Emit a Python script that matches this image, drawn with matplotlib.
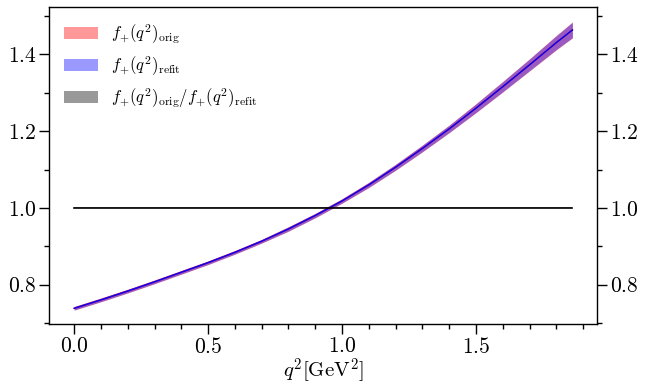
import matplotlib
matplotlib.use("Agg")
import matplotlib.pyplot as plt
import numpy as np
from matplotlib.ticker import MultipleLocator

plt.rcParams['font.family'] = 'serif'
plt.rcParams['font.serif'] = ['cmr10']
plt.rcParams['mathtext.fontset'] = 'cm'
plt.rcParams['axes.formatter.use_mathtext'] = True

# values
q2 = [0.0, 0.1, 0.2, 0.3, 0.4, 0.5, 0.6, 0.7, 0.8, 0.9, 1.0,
      1.1, 1.2, 1.3, 1.4, 1.5, 1.6, 1.7, 1.8, 1.86]
f_orig = [0.738, 0.760, 0.783, 0.807, 0.832, 0.857, 0.884, 0.913, 0.945, 0.980, 1.018,
          1.060, 1.106, 1.155, 1.206, 1.260, 1.316, 1.373, 1.431, 1.464]
err_orig = [0.005, 0.005, 0.005, 0.005, 0.005, 0.005, 0.005, 0.005, 0.006, 0.006, 0.006,
            0.007, 0.008, 0.009, 0.010, 0.012, 0.014, 0.016, 0.019, 0.021]
f_refit = [0.738, 0.760, 0.783, 0.807, 0.832, 0.857, 0.884, 0.913, 0.945, 0.980, 1.018,
           1.060, 1.106, 1.155, 1.206, 1.260, 1.316, 1.373, 1.431, 1.464]
err_refit = [0.0045, 0.0045, 0.0045, 0.0045, 0.0045, 0.0045, 0.0045, 0.0045, 0.0055, 0.0055, 0.0055,
             0.0065, 0.0075, 0.0085, 0.0095, 0.0112, 0.0132, 0.0152, 0.018, 0.020]
ratio = [1.000] * len(q2)
err_ratio = [0.001] * len(q2)

q2 = np.array(q2)
f_orig, err_orig = np.array(f_orig), np.array(err_orig)
f_refit, err_refit = np.array(f_refit), np.array(err_refit)
ratio, err_ratio = np.array(ratio), np.array(err_ratio)

fig = plt.figure(figsize=(6.47, 3.86), dpi=100)
ax = fig.add_axes([0.0762, 0.1606, 0.8470, 0.8204])

ax.fill_between(q2, f_orig - err_orig, f_orig + err_orig, color='red', alpha=0.4, lw=0,
                label=r'$f_{+}(q^2)_{\rm orig}$')
ax.plot(q2, f_orig, color='red', lw=1)
ax.fill_between(q2, f_refit - err_refit, f_refit + err_refit, color='blue', alpha=0.4, lw=0,
                label=r'$f_{+}(q^2)_{\rm refit}$')
ax.plot(q2, f_refit, color='blue', lw=1)
ax.fill_between(q2, ratio - err_ratio, ratio + err_ratio, color='black', alpha=0.4, lw=0,
                label=r'$f_{+}(q^2)_{\rm orig}/f_{+}(q^2)_{\rm refit}$')
ax.plot(q2, ratio, color='black', lw=1.2)

ax.set_xlim(-0.093, 1.953)
ax.set_ylim(0.697, 1.523)
ax.xaxis.set_major_locator(MultipleLocator(0.5))
ax.xaxis.set_minor_locator(MultipleLocator(0.1))
ax.yaxis.set_major_locator(MultipleLocator(0.2))
ax.yaxis.set_minor_locator(MultipleLocator(0.1))
ax.tick_params(which='both', direction='out', left=True, right=True,
               labelright=True, top=False, labelsize=15.5, pad=2)
ax.tick_params(which='major', length=7, width=1)
ax.tick_params(which='minor', length=3.5, width=1)
for s in ax.spines.values():
    s.set_linewidth(1.0)

ax.set_xlabel(r'$q^2[\mathrm{GeV}^2]$', fontsize=15, labelpad=0)
ax.legend(loc='upper left', frameon=False, fontsize=12)

fig.savefig('out.png', dpi=100)
